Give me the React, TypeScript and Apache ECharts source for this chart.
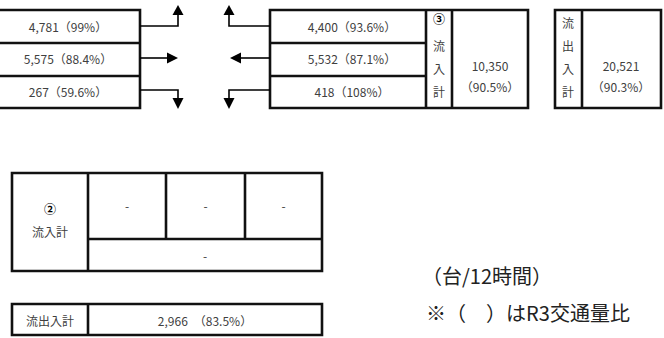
import React, { useEffect, useRef } from "react";
import * as echarts from "echarts";

// ---- data ----
const leftValues = [4781, 5575, 267];
const leftRatios = [99, 88.4, 59.6];
const rightValues = [4400, 5532, 418];
const rightRatios = [93.6, 87.1, 108];
const inflow3Value = 10350;
const inflow3Ratio = 90.5;
const grandValue = 20521;
const grandRatio = 90.3;
const inflow2Cells = ["-", "-", "-"];
const inflow2Total = "-";
const total2Value = 2966;
const total2Ratio = 83.5;
const unitLabel = "（台/12時間）";
const noteLabel = "※（　）はR3交通量比";

const FONT = '"Noto Sans CJK JP", "Noto Sans", sans-serif';
const TXT = "#404040";
const STROKE = "#111";
const LW = 2.6;

const fmt = (v: number) => v.toLocaleString("en-US");

function txt(text: string, x: number, y: number, size = 12, fill = TXT, weight = "normal") {
  return {
    type: "text",
    style: {
      text,
      x,
      y,
      fill,
      font: `${weight} ${size}px ${FONT}`,
      align: "center",
      verticalAlign: "middle",
    },
    z: 10,
  };
}
function rect(x: number, y: number, w: number, h: number) {
  return {
    type: "rect",
    shape: { x, y, width: w, height: h },
    style: { fill: "#fff", stroke: STROKE, lineWidth: LW },
    z: 1,
  };
}
function ln(x1: number, y1: number, x2: number, y2: number, w = LW) {
  return {
    type: "line",
    shape: { x1, y1, x2, y2 },
    style: { stroke: STROKE, lineWidth: w },
    z: 2,
  };
}
function pl(points: number[][]) {
  return {
    type: "polyline",
    shape: { points },
    style: { stroke: "#000", lineWidth: 1.6, fill: null },
    z: 2,
  };
}
function pg(points: number[][]) {
  return {
    type: "polygon",
    shape: { points },
    style: { fill: "#000" },
    z: 3,
  };
}

export default function App() {
  const ref = useRef<HTMLDivElement>(null);
  useEffect(() => {
    if (!ref.current) return;
    const chart = echarts.init(ref.current, null, { renderer: "svg" });
    const rowY = [26, 58, 91];
    const els: any[] = [];

    // left table
    els.push(rect(-4, 10, 144, 98));
    els.push(ln(-4, 43, 140, 43));
    els.push(ln(-4, 76, 140, 76));
    leftValues.forEach((v, i) =>
      els.push(txt(`${fmt(v)}（${leftRatios[i]}%）`, 68, rowY[i]))
    );

    // arrows left side (outflow)
    els.push(pl([[140, 26], [178, 26], [178, 14]]));
    els.push(pg([[172.5, 15], [183.5, 15], [178, 5]]));
    els.push(pl([[140, 58], [170, 58]]));
    els.push(pg([[167, 52.5], [167, 63.5], [178, 58]]));
    els.push(pl([[140, 90], [178, 90], [178, 99]]));
    els.push(pg([[172.5, 98], [183.5, 98], [178, 109]]));

    // arrows right side (inflow)
    els.push(pl([[270, 26], [229, 26], [229, 14]]));
    els.push(pg([[223.5, 15], [234.5, 15], [229, 5]]));
    els.push(pl([[270, 58], [238, 58]]));
    els.push(pg([[241, 52.5], [241, 63.5], [230, 58]]));
    els.push(pl([[270, 90], [229, 90], [229, 99]]));
    els.push(pg([[223.5, 98], [234.5, 98], [229, 109]]));

    // right table
    els.push(rect(270, 10, 258, 98));
    els.push(ln(426, 10, 426, 108));
    els.push(ln(452, 10, 452, 108));
    els.push(ln(270, 43, 426, 43));
    els.push(ln(270, 76, 426, 76));
    rightValues.forEach((v, i) =>
      els.push(txt(`${fmt(v)}（${rightRatios[i]}%）`, 352, rowY[i]))
    );
    els.push(txt("③", 439, 18, 12, "#000", "bold"));
    ["流", "入", "計"].forEach((c, i) =>
      els.push(txt(c, 439, [45, 68, 91][i], 12))
    );
    els.push(txt(fmt(inflow3Value), 490, 65, 12));
    els.push(txt(`（${inflow3Ratio}%）`, 490, 86, 12));

    // grand total box
    els.push(rect(555, 10, 106, 98));
    els.push(ln(582, 10, 582, 108));
    ["流", "出", "入", "計"].forEach((c, i) =>
      els.push(txt(c, 568, [22, 45, 68, 91][i], 12))
    );
    els.push(txt(fmt(grandValue), 621, 65, 12));
    els.push(txt(`（${grandRatio}%）`, 621, 86, 12));

    // ② table
    els.push(rect(12, 173, 310, 98));
    els.push(ln(88, 173, 88, 271));
    els.push(ln(88, 239, 322, 239));
    els.push(ln(166, 173, 166, 239));
    els.push(ln(245, 173, 245, 239));
    els.push(txt("②", 50, 208, 12, "#000", "bold"));
    els.push(txt("流入計", 50, 231, 12));
    const cx = [127, 205.5, 283.5];
    inflow2Cells.forEach((c, i) => els.push(txt(c, cx[i], 205, 12)));
    els.push(txt(inflow2Total, 205, 255, 12));

    // total box
    els.push(rect(12, 304, 310, 31));
    els.push(ln(88, 304, 88, 335));
    els.push(txt("流出入計", 50, 320, 12));
    els.push(txt(`${fmt(total2Value)}　（${total2Ratio}%）`, 205, 320, 12));

    // notes
    els.push(txt(unitLabel, 487, 275, 20, "#222"));
    els.push(txt(noteLabel, 528, 312, 20, "#222"));

    chart.setOption({
      animation: false,
      graphic: { elements: els },
    });
    return () => chart.dispose();
  }, []);
  return (
    <div
      ref={ref}
      style={{ position: "fixed", left: 0, top: 0, width: 664, height: 338, background: "#fff" }}
    />
  );
}
